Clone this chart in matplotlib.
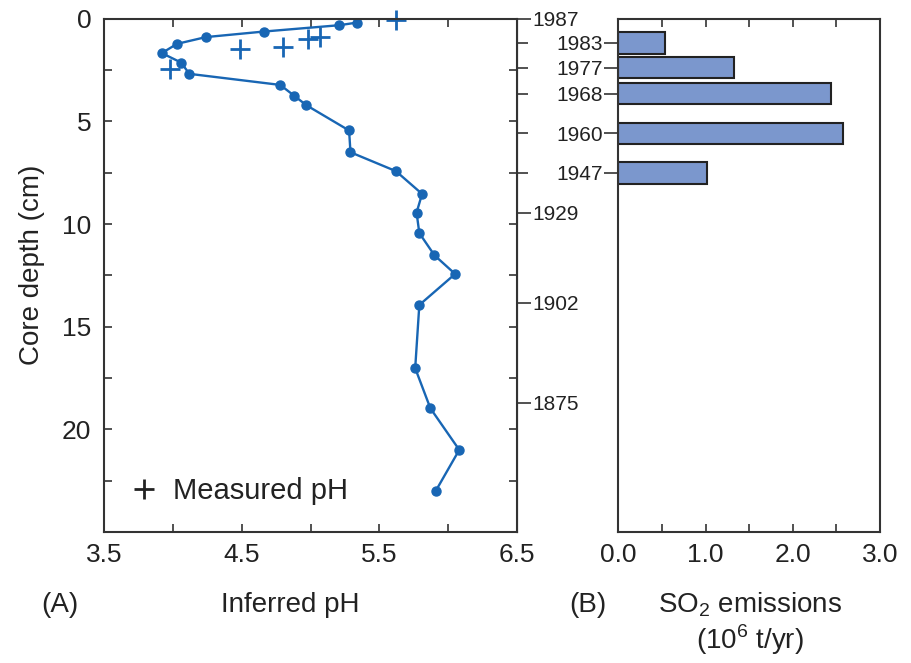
# Lake core pH record (A) next to SO2 emissions (B)
import numpy as np
import matplotlib.pyplot as plt

plt.rcParams['font.family'] = ['Liberation Sans', 'DejaVu Sans']
plt.rcParams['text.color'] = '#222222'
plt.rcParams['axes.edgecolor'] = '#333333'
plt.rcParams['xtick.color'] = '#333333'
plt.rcParams['ytick.color'] = '#333333'
plt.rcParams['xtick.labelcolor'] = '#222222'
plt.rcParams['ytick.labelcolor'] = '#222222'

# inferred pH (diatoms) by core depth
ph_depth = [0.18, 0.31, 0.62, 0.89, 1.22, 1.67, 2.13, 2.68, 3.22, 3.74, 4.21,
            5.44, 6.50, 7.42, 8.53, 9.44, 10.44, 11.52, 12.43, 13.94, 17.02,
            18.97, 21.0, 22.99]
ph_inferred = [5.34, 5.21, 4.66, 4.24, 4.03, 3.92, 4.06, 4.12, 4.78, 4.88, 4.97,
               5.28, 5.29, 5.62, 5.81, 5.77, 5.79, 5.90, 6.05, 5.79, 5.76,
               5.87, 6.08, 5.91]

# measured pH
meas_depth = [0.08, 0.89, 0.97, 1.38, 1.46, 2.44]
meas_ph = [5.62, 5.07, 4.98, 4.80, 4.49, 3.98]

# dated horizons
label_years = ['1987', '1929', '1902', '1875']
label_year_depth = [0.0, 9.45, 13.84, 18.71]

# SO2 emissions
bar_years = ['1983', '1977', '1968', '1960', '1947']
bar_depth = [1.17, 2.38, 3.64, 5.58, 7.50]
so2 = [0.54, 1.32, 2.44, 2.57, 1.02]

blue = '#1866b4'

fig = plt.figure(figsize=(9.12, 6.63), dpi=100)
ax1 = fig.add_axes([0.114, 0.1976, 0.453, 0.774])
ax2 = fig.add_axes([0.678, 0.1976, 0.287, 0.774])

# panel A
ax1.plot(ph_inferred, ph_depth, color=blue, lw=1.7, marker='o', ms=6.5,
         clip_on=False)
ax1.plot(meas_ph, meas_depth, ls='none', marker='+', ms=14, mew=2,
         color=blue, label='Measured pH', clip_on=False)
ax1.set_xlim(3.5, 6.5)
ax1.set_ylim(25, 0)

xt = np.arange(3.5, 6.51, 0.5)
ax1.set_xticks(xt, [f'{v:.1f}' if i % 2 == 0 else '' for i, v in enumerate(xt)])
yt = np.arange(0, 25.1, 2.5)
ax1.set_yticks(yt, [f'{v:.0f}' if i % 2 == 0 and v < 25 else '' for i, v in enumerate(yt)])
ax1.tick_params(axis='both', direction='in', length=6, width=1.2,
                top=True, right=True, labelsize=19)
ax1.tick_params(axis='x', pad=8)
ax1.tick_params(axis='y', pad=9)

# year ticks on the right edge of A
sec = ax1.secondary_yaxis('right')
sec.set_yticks(label_year_depth, label_years)
sec.set_yticks(bar_depth, minor=True)
sec.tick_params(which='major', direction='out', length=10, width=1.2,
                pad=1, labelsize=15)
sec.tick_params(which='minor', direction='out', length=8, width=1.2)

# legend symbol is drawn dark in the original
leg = ax1.legend(loc='lower left', bbox_to_anchor=(0.04, 0.03), frameon=False,
                 handlelength=0.8, handletextpad=0.6, fontsize=21,
                 borderaxespad=0)
for h in leg.legend_handles:
    h.set_color('#222222')

# panel B
ax2.barh(bar_depth, so2, height=1.05, color='#7b97cd', edgecolor='#222222',
         lw=1.5)
ax2.set_xlim(0, 3.0)
ax2.set_ylim(25, 0)
xt2 = np.arange(0, 3.01, 0.5)
ax2.set_xticks(xt2, [f'{v:.1f}' if i % 2 == 0 else '' for i, v in enumerate(xt2)])
ax2.tick_params(axis='x', direction='in', length=6, width=1.2, top=True,
                labelsize=19, pad=8)
ax2.set_yticks(bar_depth, bar_years)
ax2.tick_params(axis='y', direction='out', length=10, width=1.2, pad=1,
                labelsize=15)

for ax in (ax1, ax2):
    for s in ax.spines.values():
        s.set_linewidth(1.5)

# labels
fig.text(32 / 912, 1 - 265 / 663, 'Core depth (cm)', rotation=90,
         ha='center', va='center', fontsize=20)
fig.text(60 / 912, 1 - 605 / 663, '(A)', ha='center', va='center', fontsize=20)
fig.text(290 / 912, 1 - 605 / 663, 'Inferred pH', ha='center', va='center',
         fontsize=20)
fig.text(588 / 912, 1 - 605 / 663, '(B)', ha='center', va='center', fontsize=20)
fig.text(750 / 912, 1 - 605 / 663, 'SO$_\\mathregular{2}$ emissions',
         ha='center', va='center', fontsize=20)
fig.text(750 / 912, 1 - 640 / 663, '(10$^\\mathregular{6}$ t/yr)',
         ha='center', va='center', fontsize=20)

plt.savefig('out.png', dpi=100)
